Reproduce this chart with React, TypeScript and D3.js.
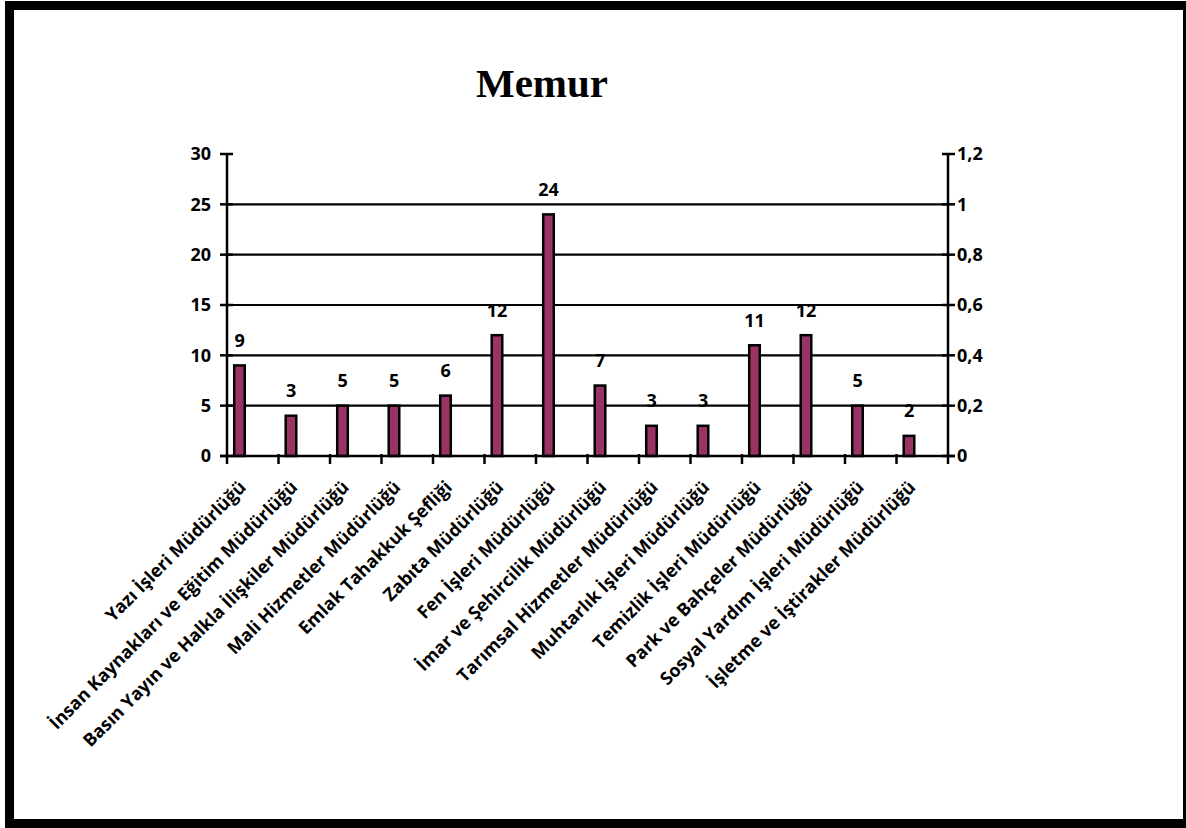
import React from "react";
import * as d3 from "d3";

const W = 1186;
const H = 828;

const categories = [
  "Yazı İşleri Müdürlüğü",
  "İnsan Kaynakları ve Eğitim Müdürlüğü",
  "Basın Yayın ve Halkla İlişkiler Müdürlüğü",
  "Mali Hizmetler Müdürlüğü",
  "Emlak Tahakkuk Şefliği",
  "Zabıta Müdürlüğü",
  "Fen İşleri Müdürlüğü",
  "İmar ve Şehircilik Müdürlüğü",
  "Tarımsal Hizmetler Müdürlüğü",
  "Muhtarlık İşleri Müdürlüğü",
  "Temizlik İşleri Müdürlüğü",
  "Park ve Bahçeler Müdürlüğü",
  "Sosyal Yardım İşleri Müdürlüğü",
  "İşletme ve İştirakler Müdürlüğü",
];
// bar heights as drawn
const values = [9, 4, 5, 5, 6, 12, 24, 7, 3, 3, 11, 12, 5, 2];
// data labels as printed
const dataLabels = [9, 3, 5, 5, 6, 12, 24, 7, 3, 3, 11, 12, 5, 2];
const leftTicks = [0, 5, 10, 15, 20, 25, 30];
const rightTicks = [0, 0.2, 0.4, 0.6, 0.8, 1, 1.2];

const LEFT = 227;
const RIGHT = 948;
const TOP = 154;
const BOTTOM = 456;

const FONT = "'Open Sans', sans-serif";

const App = () => {
  const x = d3.scaleBand<string>().domain(categories).range([LEFT, RIGHT]).padding(0);
  const y = d3.scaleLinear().domain([0, 30]).range([BOTTOM, TOP]);
  const y2 = d3.scaleLinear().domain([0, 1.2]).range([BOTTOM, TOP]);
  const bw = x.bandwidth();
  const fmt = (v: number) => String(v).replace(".", ",");

  return (
    <div style={{ position: "absolute", left: 0, top: 0 }}>
      <svg width={W} height={H} style={{ display: "block" }}>
        <rect x={0} y={0} width={W} height={H} fill="white" />
        <rect x={9.5} y={5.5} width={1178} height={818} fill="none" stroke="black" strokeWidth={9} />

        <text x={542} y={97} textAnchor="middle" fontFamily="'Liberation Serif', 'Times New Roman', serif"
          fontWeight="bold" fontSize={41}>Memur</text>

        {/* gridlines */}
        {leftTicks.filter((t) => t > 0 && t < 30).map((t) => (
          <line key={"g" + t} x1={LEFT} x2={RIGHT} y1={y(t)} y2={y(t)} stroke="black" strokeWidth={2.2} />
        ))}

        {/* bars */}
        {values.map((v, i) => (
          <rect key={"b" + i} x={x(categories[i])! + bw * 0.14} width={bw * 0.205}
            y={y(v)} height={BOTTOM - y(v)} fill="#993366" stroke="black" strokeWidth={2.5} />
        ))}

        {/* data labels */}
        {values.map((v, i) => (
          <text key={"d" + i} x={x(categories[i])! + bw * 0.245} y={y(v) - 18.5} textAnchor="middle"
            fontFamily={FONT} fontWeight="bold" fontSize={18}>{dataLabels[i]}</text>
        ))}

        {/* left axis */}
        <line x1={LEFT} x2={LEFT} y1={TOP} y2={BOTTOM} stroke="black" strokeWidth={2.5} />
        {leftTicks.map((t) => (
          <g key={"l" + t}>
            <line x1={LEFT - 7} x2={LEFT + 6} y1={y(t)} y2={y(t)} stroke="black" strokeWidth={2.5} />
            <text x={211} y={y(t)} dy="0.36em" textAnchor="end" fontFamily={FONT} fontWeight="bold" fontSize={18}>{t}</text>
          </g>
        ))}

        {/* right axis */}
        <line x1={RIGHT} x2={RIGHT} y1={TOP} y2={BOTTOM} stroke="black" strokeWidth={2.5} />
        {rightTicks.map((t) => (
          <g key={"r" + t}>
            <line x1={RIGHT - 6} x2={RIGHT + 7} y1={y2(t)} y2={y2(t)} stroke="black" strokeWidth={2.5} />
            <text x={957} y={y2(t)} dy="0.36em" textAnchor="start" fontFamily={FONT} fontWeight="bold" fontSize={18}>{fmt(t)}</text>
          </g>
        ))}

        {/* x axis */}
        <line x1={LEFT - 7} x2={RIGHT + 7} y1={BOTTOM} y2={BOTTOM} stroke="black" strokeWidth={2.5} />
        {categories.concat([""]).map((c, i) => (
          <line key={"t" + i} x1={LEFT + i * bw} x2={LEFT + i * bw} y1={BOTTOM - 2} y2={BOTTOM + 8} stroke="black" strokeWidth={2.5} />
        ))}
        {categories.map((c) => (
          <text key={c} transform={`translate(${x(c)! + bw / 2 - 10},${484}) rotate(-45)`} dy="0.35em"
            textAnchor="end" fontFamily={FONT} fontWeight="bold" fontSize={18}>{c}</text>
        ))}
      </svg>
    </div>
  );
};

export default App;
